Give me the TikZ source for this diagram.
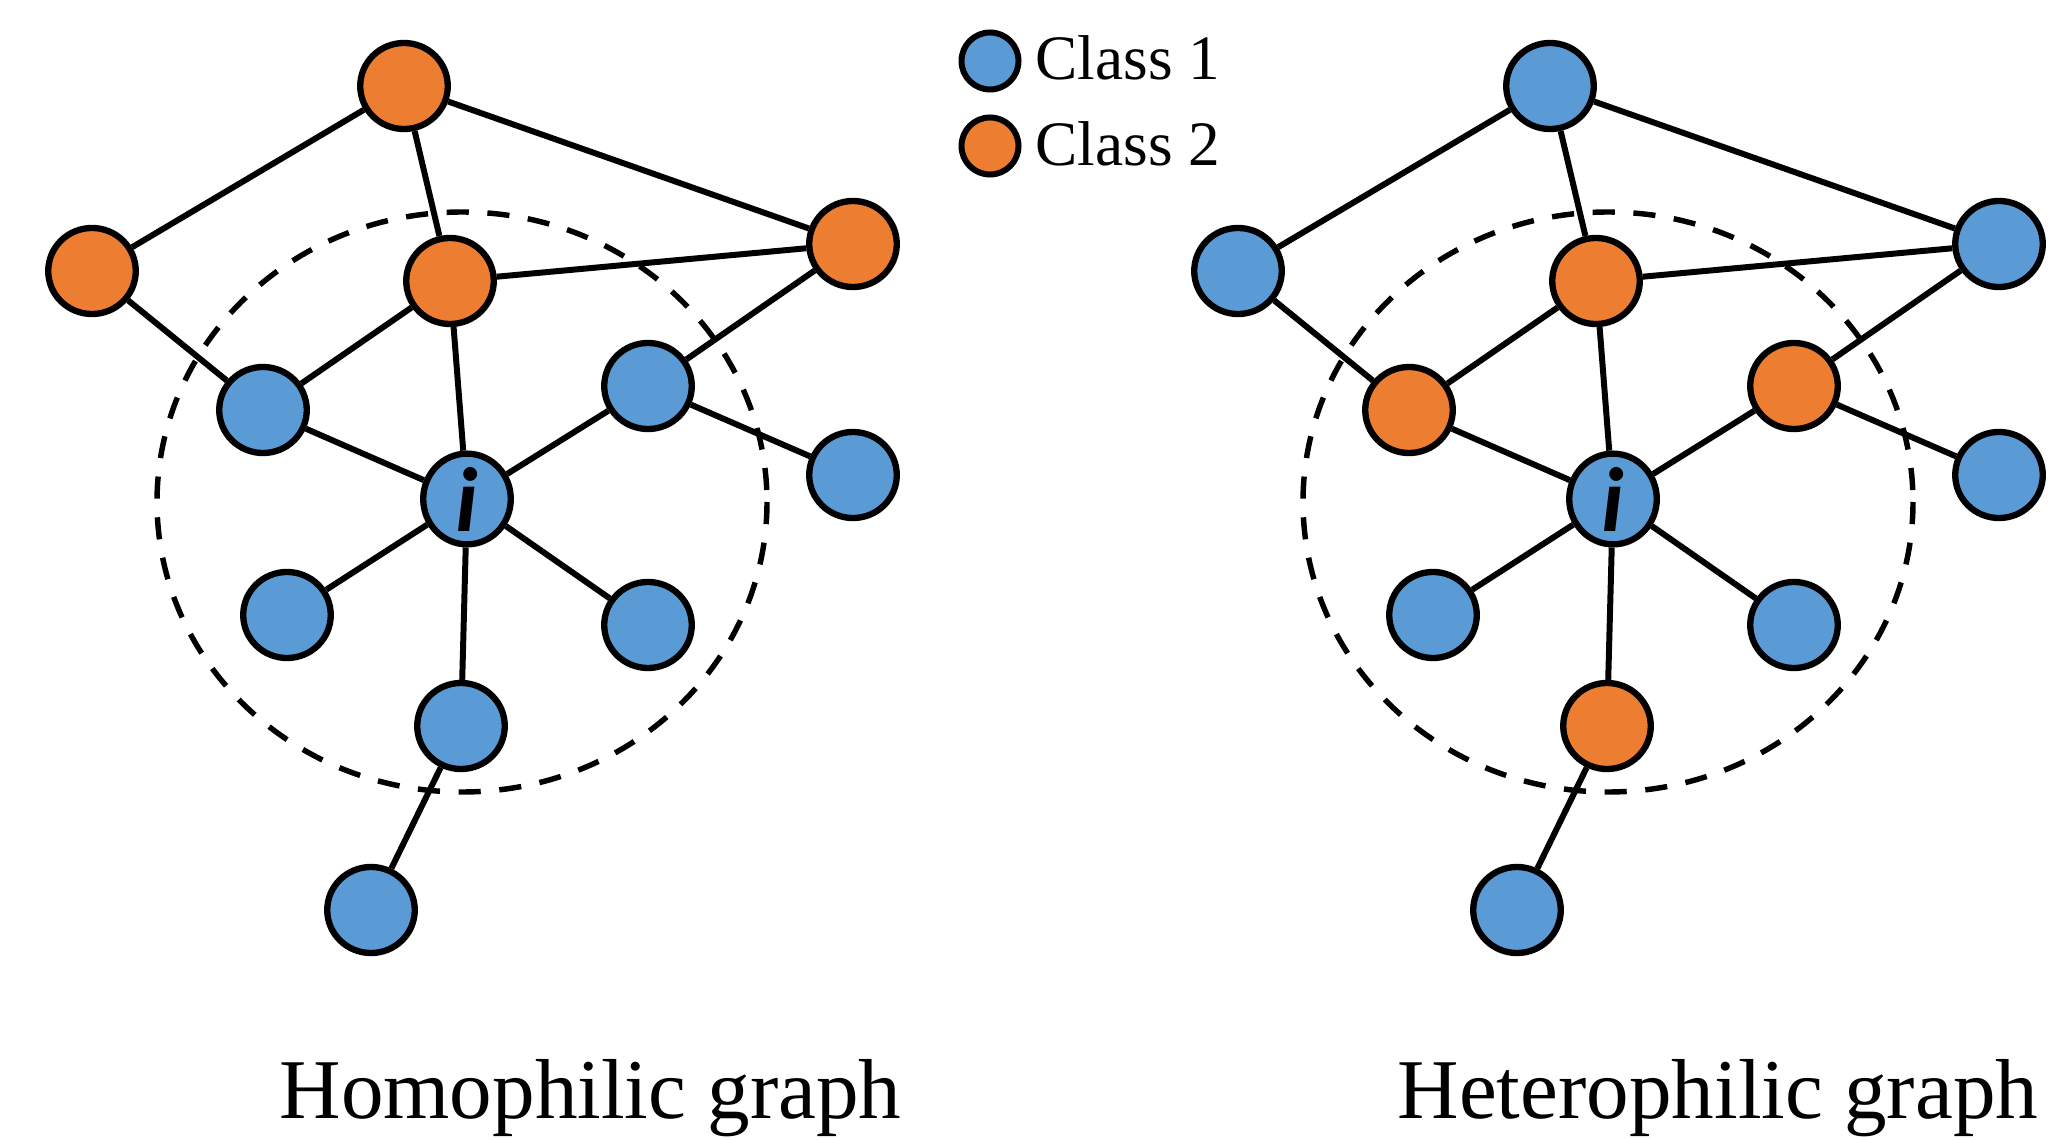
\documentclass[tikz,border=0pt]{standalone}
\usepackage{fontspec}
\setmainfont{Liberation Serif}
\newfontfamily\labelfont{Carlito}
\usetikzlibrary{shapes.geometric}
\definecolor{clsone}{HTML}{5B9BD5}
\definecolor{clstwo}{HTML}{ED7D31}
\tikzset{
  vtx/.style={ellipse, draw=black, line width=1.8pt, minimum width=0.875cm, minimum height=0.86cm, inner sep=0pt},
  blue/.style={vtx, fill=clsone},
  orange/.style={vtx, fill=clstwo},
  edge/.style={line width=1.7pt},
  hop/.style={dash pattern=on 6.3pt off 5.3pt, line width=1.55pt},
  legdot/.style={circle, draw=black, line width=1.7pt, minimum size=0.57cm, inner sep=0pt},
  legtext/.style={anchor=base west, inner sep=0pt, font=\fontsize{18pt}{22pt}\selectfont},
  caption/.style={anchor=base west, inner sep=0pt, font=\fontsize{24.2pt}{29pt}\selectfont},
  centre/.style={font=\labelfont\bfseries\itshape\fontsize{26pt}{30pt}\selectfont}
}
\begin{document}
\begin{tikzpicture}[x=0.01cm, y=-0.01cm]
\useasboundingbox (0,0) rectangle (2051,1140);

% ---- homophilic graph ----
\draw[hop] (462,502) ellipse [x radius=305, y radius=290];
\node[orange] (hT) at (404,86) {};
\node[orange] (hL) at (92,271) {};
\node[orange] (hM) at (450,281) {};
\node[orange] (hR) at (853,244) {};
\node[blue]   (hA) at (263,410) {};
\node[blue]   (hB) at (648,386) {};
\node[blue]   (hC) at (853,475) {};
\node[blue, centre] (hI) at (467,499) {i};
\node[blue]   (hD) at (287,615) {};
\node[blue]   (hE) at (648,625) {};
\node[blue]   (hF) at (461,726) {};
\node[blue]   (hG) at (371,910) {};
\foreach \a/\b in {hT/hL, hT/hM, hT/hR, hL/hA, hM/hA, hM/hR, hM/hI, hR/hB, hB/hC, hA/hI, hB/hI, hI/hD, hI/hE, hI/hF, hF/hG}
  \draw[edge] (\a) -- (\b);

% ---- heterophilic graph ----
\begin{scope}[shift={(1146,0)}]
\draw[hop] (462,502) ellipse [x radius=305, y radius=290];
\node[blue]   (tT) at (404,86) {};
\node[blue]   (tL) at (92,271) {};
\node[orange] (tM) at (450,281) {};
\node[blue]   (tR) at (853,244) {};
\node[orange] (tA) at (263,410) {};
\node[orange] (tB) at (648,386) {};
\node[blue]   (tC) at (853,475) {};
\node[blue, centre] (tI) at (467,499) {i};
\node[blue]   (tD) at (287,615) {};
\node[blue]   (tE) at (648,625) {};
\node[orange] (tF) at (461,726) {};
\node[blue]   (tG) at (371,910) {};
\foreach \a/\b in {tT/tL, tT/tM, tT/tR, tL/tA, tM/tA, tM/tR, tM/tI, tR/tB, tB/tC, tA/tI, tB/tI, tI/tD, tI/tE, tI/tF, tF/tG}
  \draw[edge] (\a) -- (\b);
\end{scope}

% ---- legend ----
\node[legdot, fill=clsone] (k1) at (990,61) {};
\node[legdot, fill=clstwo] (k2) at (990,146) {};
\node[legtext] (k1t) at (1035,80) {Class 1};
\node[legtext] (k2t) at (1035,166) {Class 2};

% ---- captions ----
\node[caption] (capl) at (279,1118) {Homophilic graph};
\node[caption] (capr) at (1397,1118) {Heterophilic graph};
\end{tikzpicture}
\end{document}
